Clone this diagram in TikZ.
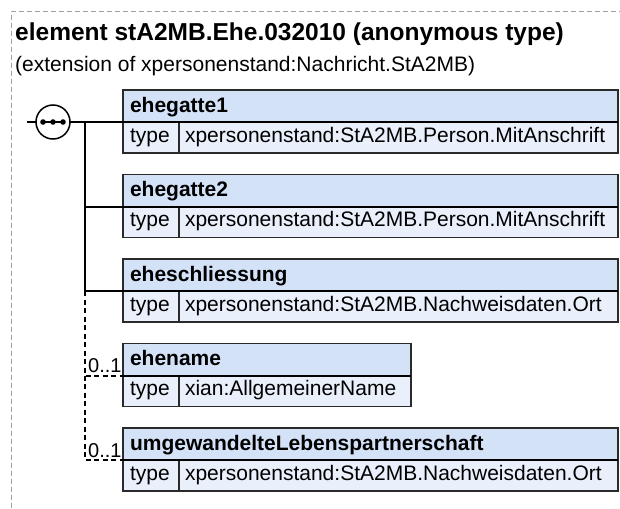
\documentclass[tikz,border=0pt]{standalone}
\usepackage{fontspec}
\usetikzlibrary{calc}
\setmainfont{Liberation Sans}
\definecolor{hdrfill}{HTML}{D4E2F8}
\definecolor{rowfill}{HTML}{EAF0FB}
\definecolor{boxline}{HTML}{2A2A2A}
\definecolor{framegray}{HTML}{A0A0A0}
\begin{document}
\begin{tikzpicture}[x=1pt,y=-1pt,
  hdr/.style={draw=boxline, line width=1.5pt, fill=hdrfill, anchor=north west,
    inner xsep=7pt, inner ysep=0pt, outer sep=0pt, text height=22pt, text depth=10pt,
    align=left, font=\fontsize{21}{24}\selectfont\bfseries},
  tkey/.style={draw=boxline, line width=1.5pt, fill=rowfill, anchor=north west,
    inner xsep=7pt, inner ysep=0pt, outer sep=0pt, text height=20pt, text depth=11pt,
    text width=42pt, align=left, font=\fontsize{21}{24}\selectfont},
  tval/.style={draw=boxline, line width=1.5pt, fill=rowfill, anchor=north west,
    inner xsep=6pt, inner ysep=0pt, outer sep=0pt, text height=20pt, text depth=11pt,
    align=left, font=\fontsize{21}{24}\selectfont},
  conn/.style={draw=black, line width=2pt},
  optconn/.style={draw=black, line width=2pt, dash pattern=on 5pt off 3.5pt},
  mult/.style={anchor=base west, inner sep=0pt, font=\fontsize{20}{22}\selectfont}
]
\useasboundingbox (0,0) rectangle (620,508);
% outer dashed frame
\draw[framegray, line width=1pt, dash pattern=on 5pt off 3pt] (11,508) -- (11,12) -- (620,12);
% titles
\node[anchor=base west, inner sep=0pt, font=\fontsize{24.5}{28}\selectfont\bfseries] (title) at (15,41)
  {element stA2MB.Ehe.032010 (anonymous type)};
\node[anchor=base west, inner sep=0pt, font=\fontsize{21}{24}\selectfont] (subtitle) at (15,72)
  {(extension of xpersonenstand:Nachricht.StA2MB)};
% boxes
% 1
\node[hdr, text width=481pt] (h1) at (123,90) {ehegatte1};
\node[tkey] (k1) at (h1.south west) {type};
\node[tval, text width=427pt] (v1) at (k1.north east) {xpersonenstand:StA2MB.Person.MitAnschrift};
% 2
\node[hdr, text width=481pt] (h2) at (123,174.5) {ehegatte2};
\node[tkey] (k2) at (h2.south west) {type};
\node[tval, text width=427pt] (v2) at (k2.north east) {xpersonenstand:StA2MB.Person.MitAnschrift};
% 3
\node[hdr, text width=481pt] (h3) at (123,259) {eheschliessung};
\node[tkey] (k3) at (h3.south west) {type};
\node[tval, text width=427pt] (v3) at (k3.north east) {xpersonenstand:StA2MB.Nachweisdaten.Ort};
% 4
\node[hdr, text width=274pt] (h4) at (123,343.5) {ehename};
\node[tkey] (k4) at (h4.south west) {type};
\node[tval, text width=220pt] (v4) at (k4.north east) {xian:AllgemeinerName};
% 5
\node[hdr, text width=481pt] (h5) at (123,428) {umgewandelteLebenspartnerschaft};
\node[tkey] (k5) at (h5.south west) {type};
\node[tval, text width=427pt] (v5) at (k5.north east) {xpersonenstand:StA2MB.Nachweisdaten.Ort};
% header separators (darker)
\foreach \i in {1,...,5} {\draw[black, line width=2pt] (h\i.south west) -- (h\i.south east);}
% sequence compositor
\node[draw=black, line width=1.5pt, fill=white, circle, minimum size=34pt, inner sep=0pt, outer sep=0pt] (seq) at (53,122) {};
\coordinate (d1) at ($(seq.center)+(-10,0)$);
\coordinate (d3) at ($(seq.center)+(10,0)$);
\draw[black, line width=1.5pt] (d1) -- (d3);
\fill[black] (d1) circle (2.8pt) (seq.center) circle (2.8pt) (d3) circle (2.8pt);
\coordinate (stub) at (27,122);
\coordinate (trunk) at (85,122);
\draw[conn] (stub) -- (seq.west);
\draw[conn] (seq.east) -- (h1.south west);
\draw[conn] (trunk) |- (h2.south west);
\draw[conn] (trunk) |- (h3.south west);
\draw[optconn] (h3.south west -| trunk) |- (h4.south west);
\draw[optconn] (h4.south west -| trunk) |- (h5.south west);
\node[mult] (m4) at (88,372) {0..1};
\node[mult] (m5) at (88,457) {0..1};
\end{tikzpicture}
\end{document}
